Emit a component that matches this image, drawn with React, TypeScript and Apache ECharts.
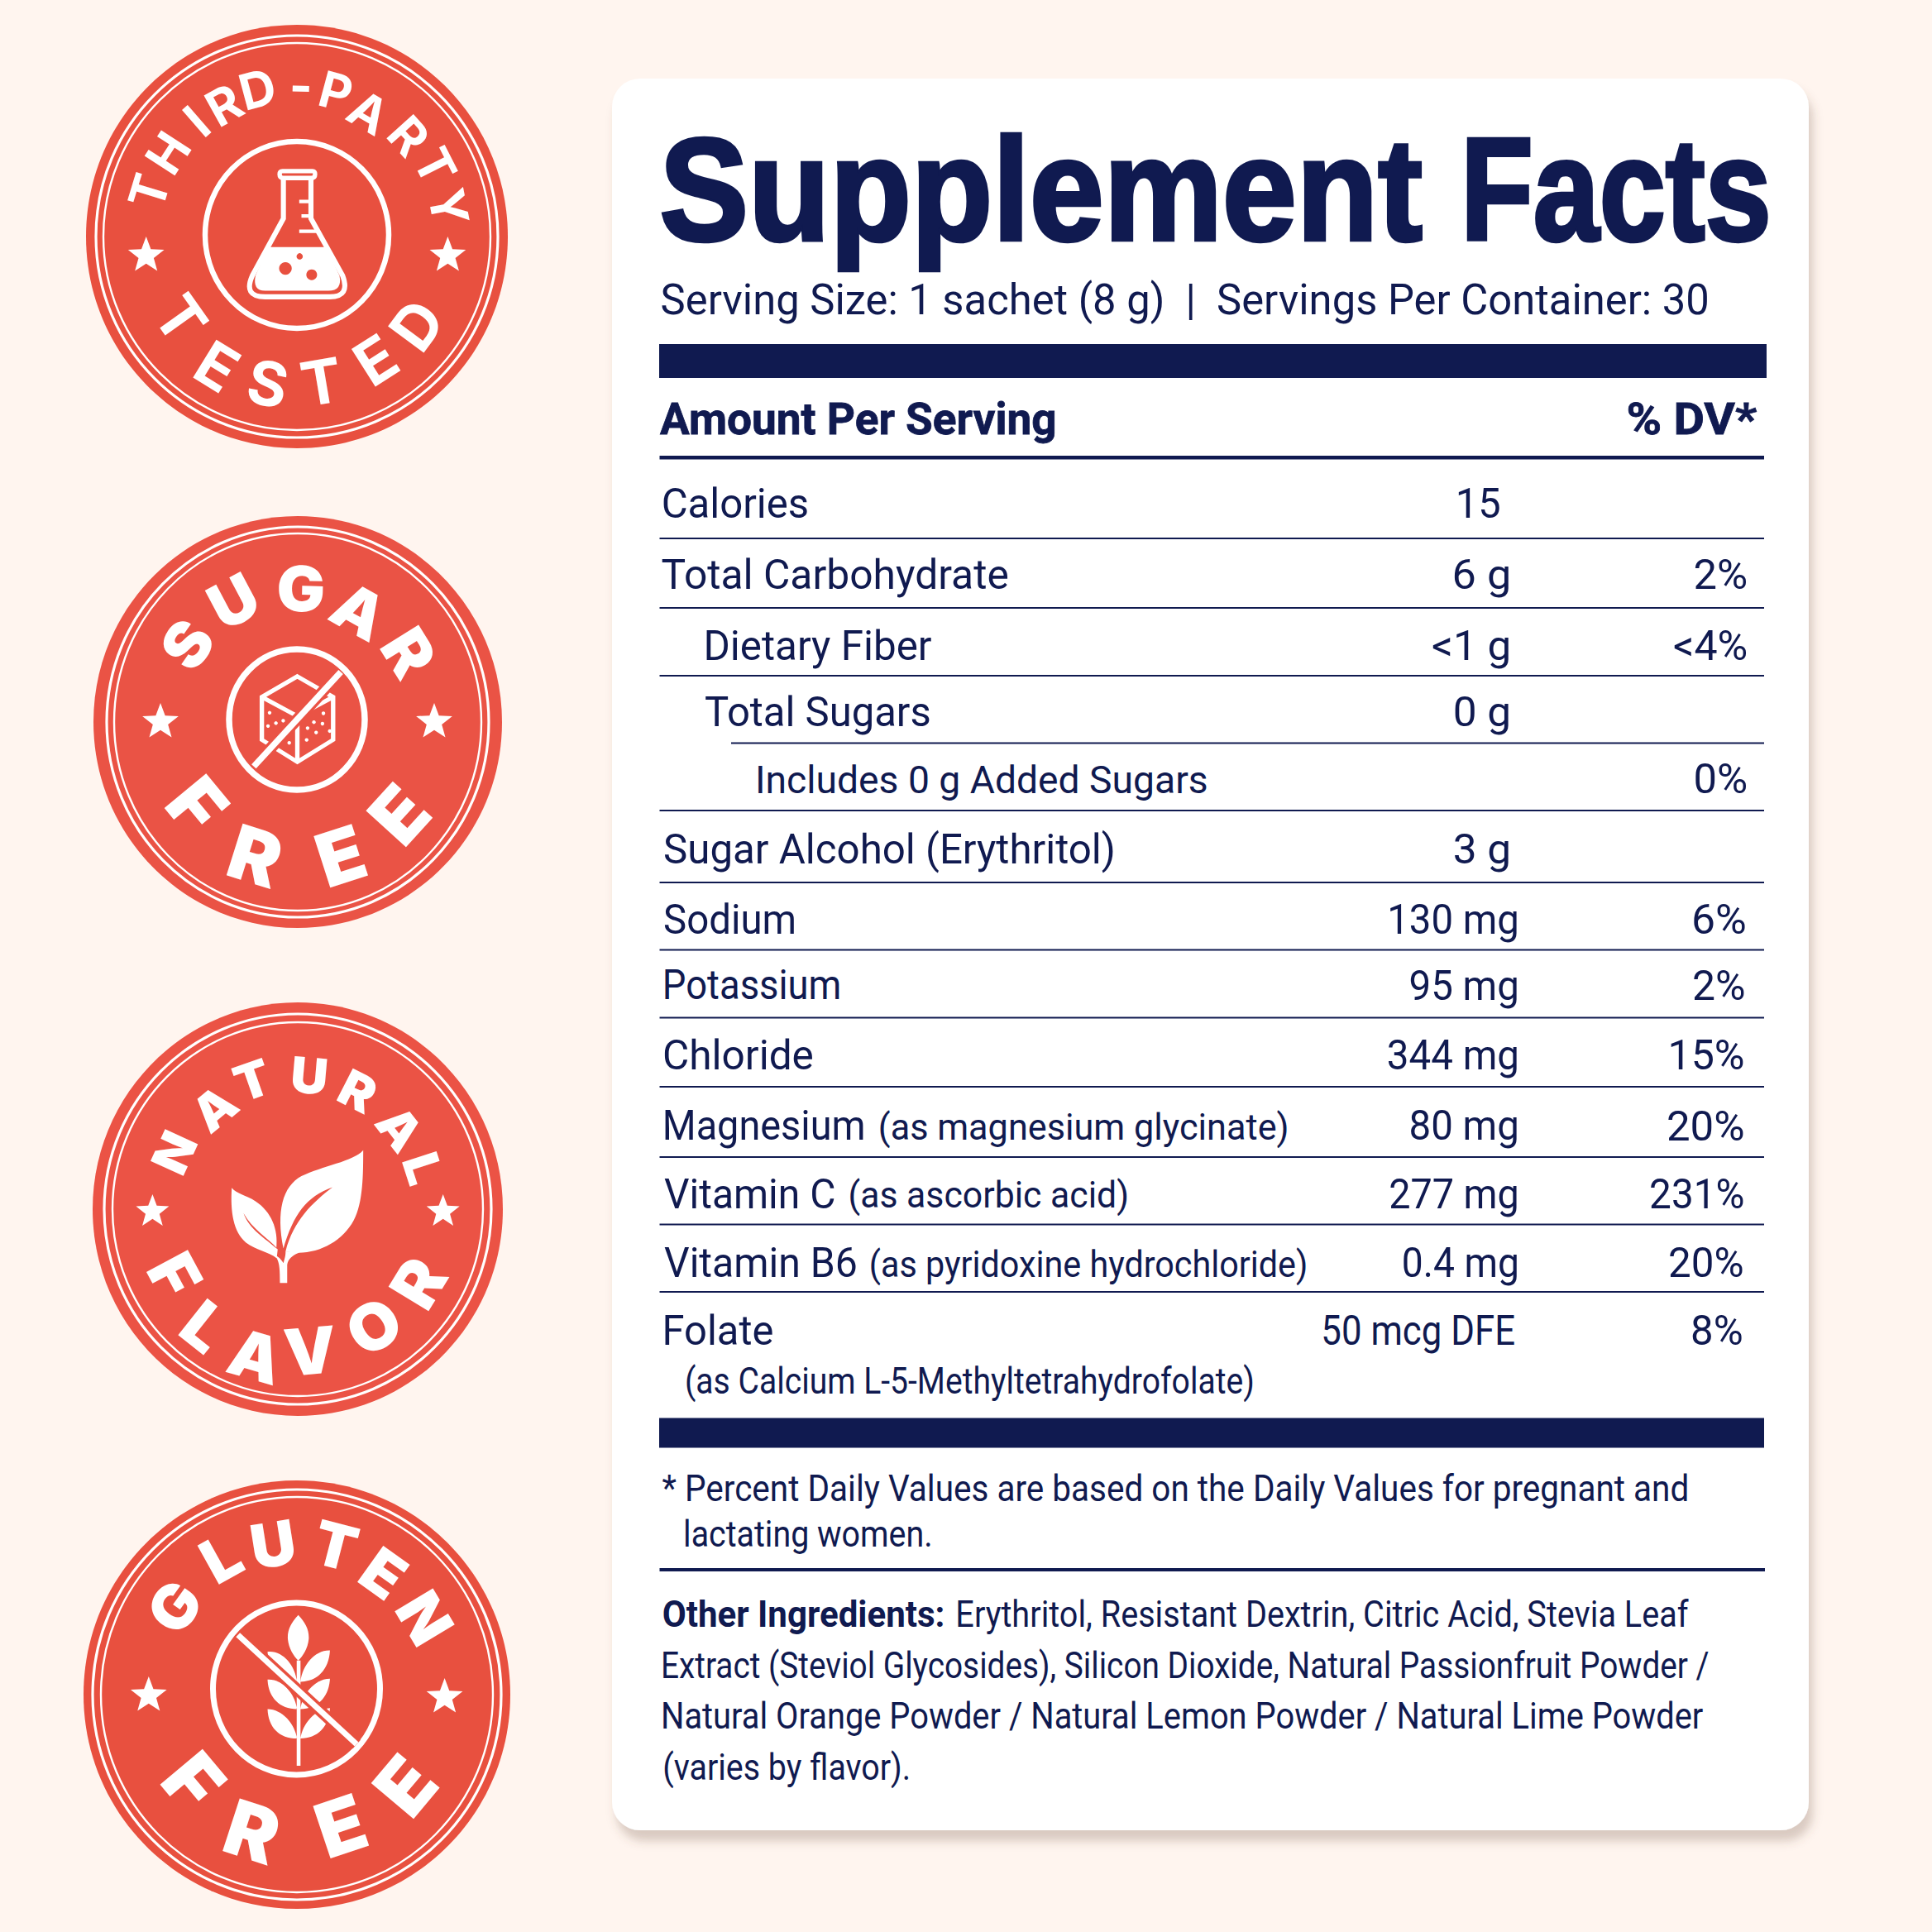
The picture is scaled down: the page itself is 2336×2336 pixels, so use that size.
import React, { useEffect, useRef } from "react";
import * as echarts from "echarts";

// ---- content ----
const titleWords = ["Supplement", "Facts"];
const servingText = "Serving Size: 1 sachet (8 g)  |  Servings Per Container: 30";
const headLeft = "Amount Per Serving";
const headRight = "% DV*";
const rowLabels = ["Calories", "Total Carbohydrate", "Dietary Fiber", "Total Sugars", "Includes 0 g Added Sugars", "Sugar Alcohol (Erythritol)", "Sodium", "Potassium", "Chloride", "Magnesium", "Vitamin C", "Vitamin B6", "Folate"];
const rowNotes = ["", "", "", "", "", "", "", "", "", "(as magnesium glycinate)", "(as ascorbic acid)", "(as pyridoxine hydrochloride)", ""];
const rowAmounts = ["15", "6 g", "<1 g", "0 g", "", "3 g", "130 mg", "95 mg", "344 mg", "80 mg", "277 mg", "0.4 mg", "50 mcg DFE"];
const rowDV = ["", "2%", "<4%", "", "0%", "", "6%", "2%", "15%", "20%", "231%", "20%", "8%"];
const folateNote = "(as Calcium L-5-Methyltetrahydrofolate)";
const footLines = ["* Percent Daily Values are based on the Daily Values for pregnant and", "lactating women."];
const ingredientsLead = "Other Ingredients:";
const ingredientLines = ["Erythritol, Resistant Dextrin, Citric Acid, Stevia Leaf", "Extract (Steviol Glycosides), Silicon Dioxide, Natural Passionfruit Powder /", "Natural Orange Powder / Natural Lemon Powder / Natural Lime Powder", "(varies by flavor)."];
const badgeTopWords = ["THIRD-PARTY", "SUGAR", "NATURAL", "GLUTEN"];
const badgeBottomWords = ["TESTED", "FREE", "FLAVOR", "FREE"];

// ---- layout ----
const rowNameX = [[801.6, 976.5], [800.6, 1218.4], [854.4, 1126.8], [853, 1124], [917, 1459], [803, 1346], [803, 960.5], [804.5, 1014.8], [803, 982.4], [804.5, 1044], [803, 1009], [803, 1034.7], [804.5, 934]];
const rowNoteX = [null, null, null, null, null, null, null, null, null, [1063.8, 1556.6], [1027.5, 1363], [1052.7, 1579.4], null];
const rowBase = [625.6, 712, 797.7, 878, 959, 1044, 1128.7, 1208.7, 1293.5, 1378.4, 1460.8, 1544, 1626];
const amountX = [[1763.6, 1813.5], [1758.7, 1824], [1732, 1824], [1758.7, 1824], null, [1758.7, 1824], [1681, 1834], [1705.4, 1834], [1678.7, 1834], [1705.4, 1834], [1681, 1834], [1696.7, 1834], [1600, 1831]];
const dvX = [null, [2049.6, 2111.6], [2024, 2111.6], null, [2049.6, 2111.6], null, [2048, 2110], [2048, 2109], [2020.5, 2108], [2017, 2108], [1996, 2108], [2019, 2107], [2046, 2106]];
const ruleY = [651, 735, 817, 898.5, 980, 1067, 1148.6, 1230.5, 1314, 1399, 1480.6, 1562];
const titleX = [[802, 1719], [1775, 2136]];

const badgeBox = [
  { cx: 359, cy: 286, rx: 255, ry: 256, o: [243, 243], i: [234, 234] },
  { cx: 360, cy: 873, rx: 247, ry: 249, o: [231, 236], i: [222, 228] },
  { cx: 360, cy: 1462, rx: 248, ry: 250, o: [234, 236], i: [224, 226] },
  { cx: 359, cy: 2049, rx: 258, ry: 259, o: [247, 248], i: [237, 239] },
];
const topAngles = [
  [-73, -57, -41, -29, -15, 1.5, 15, 30, 48, 63, 79],
  [-55, -28, 1.4, 29, 58],
  [-65.4, -39.6, -19.4, 5, 27, 51.7, 72],
  [-54.4, -29, -9, 14.6, 35.5, 59],
];
const topRadii = [
  [187, 186, 185, 182, 185, 183, 182, 174, 182, 188, 187],
  [163, 165, 161, 153, 158],
  [164, 158, 165, 162, 160, 157, 159],
  [182, 189, 184, 186, 180, 180],
];
const bottomAngles = [
  [-54.7, -31.6, -11.2, 9.6, 32.5, 53.5],
  [-50.4, -17.5, 17.8, 47.7],
  [-61.8, -38.4, -16, 5, 33, 58.6],
  [-50, -18, 18.5, 50],
];
const bottomRadii = [
  [172, 184, 181, 178, 177, 180],
  [158, 170, 170, 166],
  [169, 181, 185, 172, 169, 171],
  [163, 174, 167, 171],
];
const topFont = [[60, 700, 1], [76, 900, 1.02], [60, 900, 1.04], [74, 900, 1.02]];
const bottomFont = [[74, 700, 1], [90, 900, 1.02], [78, 900, 1.02], [92, 900, 1.02]];
const starAt = [[176.7, 309, 541.4, 309, 23], [194, 873, 525, 873, 23], [184.4, 1465, 535.7, 1465, 21], [179.8, 2050, 537.6, 2052, 23]];
const iconRing = [6.5, 7.5, 0, 7];

const NAVY = "#101A50";
const RED = ["#E8503F", "#EA5345", "#EB5345", "#E8503F"];
const PAGE = "#FFF5EF";

// ---- icons, drawn in each badge's own crop space ----
const shapes: Record<string, string> = {
  flaskRim: "M735 540 L830 540 Q838 540 838 550 Q838 562 826 562 L738 562 Q726 562 726 550 Q726 540 735 540 Z",
  flaskBody: "M738 562 L738 690 L640 870 Q610 937 680 937 L885 937 Q950 937 925 870 L825 690 L825 562",
  flaskLiquid: "M690 780 L873 780 L915 870 Q925 918 880 918 L680 918 Q640 918 650 870 Z",
  flaskTicks: "M788 636 L825 636 M795 682 L825 682 M788 730 L850 730",
  cube: "M782 610 L895 680 L895 825 L782 900 L670 825 L670 680 Z M670 680 L782 745 L895 680 M782 745 L782 900",
  leafBig: "M990 562 C960 600 860 615 795 650 C735 685 715 770 738 895 C770 780 810 720 893 688 C830 740 770 800 745 905 C830 925 920 880 960 800 C990 740 990 640 990 562 Z",
  leafSmall: "M575 690 C570 770 580 840 620 875 C650 900 690 905 717 928 L720 898 C680 860 630 830 612 775 C640 830 690 860 716 892 C722 830 700 770 650 735 C620 715 590 710 575 690 Z",
  leafStem: "M727 1012 L750 1012 L750 950 C752 930 770 915 790 908 L745 905 C745 925 740 935 738 945 C730 930 720 920 700 912 L717 928 C725 945 727 960 727 1012 Z",
  wheat: "M785 525 C808 550 820 575 818 605 C815 635 800 660 785 675 C770 660 755 635 752 605 C750 575 762 550 785 525 Z M781 745 C775 690 735 640 688 646 C690 705 725 745 781 745 Z M792 745 C798 690 838 640 885 642 C882 705 845 745 792 745 Z M781 835 C775 785 735 735 688 738 C690 795 725 835 781 835 Z M792 835 C798 785 838 735 885 735 C882 795 845 835 792 835 Z M781 932 C775 885 735 835 688 835 C690 895 725 932 781 932 Z M792 932 C798 885 838 835 885 832 C882 895 845 932 792 932 Z M780 675 L792 675 L792 1022 L780 1022 Z",
};
Object.keys(shapes).forEach((k) => {
  echarts.graphic.registerShape(k, echarts.graphic.extendPath(shapes[k], {}) as any);
});
const cubeDots = [[695, 733], [715, 768], [738, 760], [690, 778], [730, 830], [757, 835], [865, 735], [835, 765], [862, 770], [815, 785], [842, 800], [885, 795], [812, 825]];
const bubbles = [[745, 848, 20], [828, 868, 17], [790, 810, 10]];

const mctx = document.createElement("canvas").getContext("2d") as CanvasRenderingContext2D;
const BODY = "Roboto, sans-serif";
const HEAD = "'Liberation Sans', Arial, sans-serif";

function fitText(str: string, L: number, R: number, base: number, fs: number, weight: any, family: string, fill: string, extra: any = {}) {
  mctx.font = `${weight} ${fs}px ${family}`;
  const m = mctx.measureText(str);
  const abl = m.actualBoundingBoxLeft;
  const ink = abl + m.actualBoundingBoxRight;
  const sx = (R - L) / ink;
  return {
    type: "text",
    silent: true,
    x: L + abl * sx,
    y: base - 0.342 * fs,
    scaleX: sx,
    style: { text: str, fill, fontSize: fs, fontWeight: weight, fontFamily: family, textAlign: "left", verticalAlign: "middle", ...extra },
  };
}
function bar(x1: number, x2: number, y1: number, y2: number) {
  return { type: "rect", silent: true, shape: { x: x1, y: y1, width: x2 - x1, height: y2 - y1 }, style: { fill: NAVY } };
}
function star(cx: number, cy: number, r: number, fill: string) {
  const points: number[][] = [];
  for (let i = 0; i < 10; i++) {
    const a = (i * Math.PI) / 5;
    const rr = i % 2 ? r * 0.42 : r;
    points.push([cx + rr * Math.sin(a), cy - rr * Math.cos(a)]);
  }
  return { type: "polygon", silent: true, shape: { points }, style: { fill } };
}
function letter(ch: string, x: number, y: number, rotation: number, fs: number, weight: number, sx: number) {
  return {
    type: "text", silent: true, x, y, rotation, scaleX: sx,
    style: { text: ch, fill: "#FFFFFF", fontSize: fs, fontWeight: weight, fontFamily: "Inter, sans-serif", textAlign: "center", verticalAlign: "middle" },
  };
}
function icon(name: string, ox: number, oy: number, ky: number, style: any) {
  return { type: name, silent: true, x: ox, y: oy, scaleX: 1 / 2.613, scaleY: 1 / ky, style };
}
function seg(ox: number, oy: number, ky: number, a: number[], w: number, stroke: string) {
  const k = 1 / 2.613;
  return {
    type: "line", silent: true,
    shape: { x1: ox + a[0] * k, y1: oy + a[1] / ky, x2: ox + a[2] * k, y2: oy + a[3] / ky },
    style: { stroke, lineWidth: w },
  };
}

function buildElements() {
  const els: any[] = [];
  // card
  els.push({
    type: "rect", silent: true, shape: { x: 740, y: 95, width: 1447, height: 2118, r: 34 },
    style: { fill: "#FFFFFF", shadowColor: "rgba(110,80,60,0.26)", shadowBlur: 12, shadowOffsetX: 5, shadowOffsetY: 13 },
  });

  // badges
  badgeBox.forEach((b, i) => {
    els.push({ type: "ellipse", silent: true, shape: { cx: b.cx, cy: b.cy, rx: b.rx, ry: b.ry }, style: { fill: RED[i] } });
    els.push({ type: "ellipse", silent: true, shape: { cx: b.cx, cy: b.cy, rx: b.o[0], ry: b.o[1] }, style: { fill: "none", stroke: "#FFFFFF", lineWidth: 3.2 } });
    els.push({ type: "ellipse", silent: true, shape: { cx: b.cx, cy: b.cy, rx: b.i[0], ry: b.i[1] }, style: { fill: "none", stroke: "#FFFFFF", lineWidth: 2.4 } });
    const s = starAt[i];
    els.push(star(s[0], s[1], s[4], "#FFFFFF"));
    els.push(star(s[2], s[3], s[4], "#FFFFFF"));
    const [tf, tw, tsx] = topFont[i];
    Array.from(badgeTopWords[i]).forEach((ch, j) => {
      const th = (topAngles[i][j] * Math.PI) / 180;
      const r = topRadii[i][j];
      els.push(letter(ch, b.cx + r * Math.sin(th), b.cy - r * Math.cos(th), -th, tf, tw, tsx));
    });
    const [bf, bw, bsx] = bottomFont[i];
    Array.from(badgeBottomWords[i]).forEach((ch, j) => {
      const th = (bottomAngles[i][j] * Math.PI) / 180;
      const r = bottomRadii[i][j];
      els.push(letter(ch, b.cx + r * Math.sin(th), b.cy + r * Math.cos(th), th, bf, bw, bsx));
    });
  });

  // badge 1 icon
  els.push({ type: "ellipse", silent: true, shape: { cx: 359, cy: 284, rx: 111, ry: 113 }, style: { fill: "none", stroke: "#FFFFFF", lineWidth: iconRing[0] } });
  const white = (w: number) => ({ fill: "none", stroke: "#FFFFFF", lineWidth: w });
  els.push(icon("flaskRim", 60, 0, 2.613, { fill: RED[0], stroke: "#FFFFFF", lineWidth: 14 }));
  els.push(icon("flaskBody", 60, 0, 2.613, white(16)));
  els.push(icon("flaskLiquid", 60, 0, 2.613, { fill: "#FFFFFF" }));
  els.push(icon("flaskTicks", 60, 0, 2.613, white(11)));
  bubbles.forEach((c) => els.push({ type: "circle", silent: true, shape: { cx: 60 + c[0] / 2.613, cy: c[1] / 2.613, r: c[2] / 2.613 }, style: { fill: RED[0] } }));

  // badge 2 icon
  els.push({ type: "ellipse", silent: true, shape: { cx: 359, cy: 870, rx: 82, ry: 85 }, style: { fill: "none", stroke: "#FFFFFF", lineWidth: iconRing[1] } });
  els.push(icon("cube", 60, 600, 2.8, white(14)));
  cubeDots.forEach((c) => els.push({ type: "circle", silent: true, shape: { cx: 60 + c[0] / 2.613, cy: 600 + c[1] / 2.8, r: 2.2 }, style: { fill: "#FFFFFF" } }));
  els.push(seg(60, 600, 2.8, [920, 595, 645, 915], 14, RED[1]));
  els.push(seg(60, 600, 2.8, [920, 595, 645, 915], 7.5, "#FFFFFF"));

  // badge 3 icon
  els.push(icon("leafBig", 60, 1190, 2.8, { fill: "#FFFFFF" }));
  els.push(icon("leafSmall", 60, 1190, 2.8, { fill: "#FFFFFF" }));
  els.push(icon("leafStem", 60, 1190, 2.8, { fill: "#FFFFFF" }));

  // badge 4 icon
  els.push({ type: "ellipse", silent: true, shape: { cx: 358.5, cy: 2042, rx: 101, ry: 104 }, style: { fill: "none", stroke: "#FFFFFF", lineWidth: iconRing[3] } });
  els.push(icon("wheat", 60, 1760, 2.722, { fill: "#FFFFFF" }));
  els.push(seg(60, 1760, 2.722, [595, 590, 970, 950], 14, RED[3]));
  els.push(seg(60, 1760, 2.722, [595, 590, 970, 950], 7, "#FFFFFF"));

  // table head
  titleWords.forEach((w, i) => els.push(fitText(w, titleX[i][0], titleX[i][1], 289, 176, 700, HEAD, NAVY, { stroke: NAVY, lineWidth: 4.5 })));
  els.push(fitText(servingText, 800.6, 2064, 379.4, 51, 400, BODY, NAVY));
  els.push(bar(797, 2136, 416, 457));
  els.push(fitText(headLeft, 798, 1275, 525, 54, 700, BODY, NAVY, { stroke: NAVY, lineWidth: 0.8 }));
  els.push(fitText(headRight, 1968.6, 2124.7, 525, 54, 700, BODY, NAVY, { stroke: NAVY, lineWidth: 0.8 }));
  els.push(bar(797.5, 2133, 551, 555.5));

  // rows
  rowLabels.forEach((name, i) => {
    const base = rowBase[i];
    els.push(fitText(name, rowNameX[i][0], rowNameX[i][1], base, i === 4 ? 46 : 50, 400, BODY, NAVY));
    const nx = rowNoteX[i];
    if (nx) els.push(fitText(rowNotes[i], nx[0], nx[1], base, 44, 400, BODY, NAVY));
    const ax = amountX[i];
    if (ax) els.push(fitText(rowAmounts[i], ax[0], ax[1], base, 50, 400, BODY, NAVY));
    const dx = dvX[i];
    if (dx) els.push(fitText(rowDV[i], dx[0], dx[1], base, 50, 400, BODY, NAVY));
  });
  ruleY.forEach((y, i) => els.push(bar(i === 3 ? 884 : 797.5, 2133, y - 1, y + 1)));

  els.push(fitText(folateNote, 829.7, 1515, 1685, 45, 400, BODY, NAVY));
  els.push(bar(797, 2133, 1714.5, 1750.5));
  els.push(fitText(footLines[0], 800.6, 2040, 1815, 45, 400, BODY, NAVY));
  els.push(fitText(footLines[1], 828.7, 1125, 1870, 45, 400, BODY, NAVY));
  els.push(bar(797.5, 2134, 1896, 1900));
  els.push(fitText(ingredientsLead, 801.6, 1140, 1967, 45, 700, BODY, NAVY));
  els.push(fitText(ingredientLines[0], 1158, 2042, 1967, 45, 400, BODY, NAVY));
  els.push(fitText(ingredientLines[1], 801.6, 2066.5, 2029, 45, 400, BODY, NAVY));
  els.push(fitText(ingredientLines[2], 801.6, 2060, 2090, 45, 400, BODY, NAVY));
  els.push(fitText(ingredientLines[3], 803, 1098.7, 2151.5, 45, 400, BODY, NAVY));
  return els;
}

export default function App() {
  const ref = useRef<HTMLDivElement>(null);
  useEffect(() => {
    document.body.style.margin = "0";
    document.body.style.background = PAGE;
    const chart = echarts.init(ref.current as HTMLDivElement, null, { renderer: "svg" });
    chart.setOption({ animation: false, backgroundColor: PAGE, graphic: { elements: buildElements() } });
    return () => chart.dispose();
  }, []);
  return <div ref={ref} style={{ width: 2336, height: 2336 }} />;
}
